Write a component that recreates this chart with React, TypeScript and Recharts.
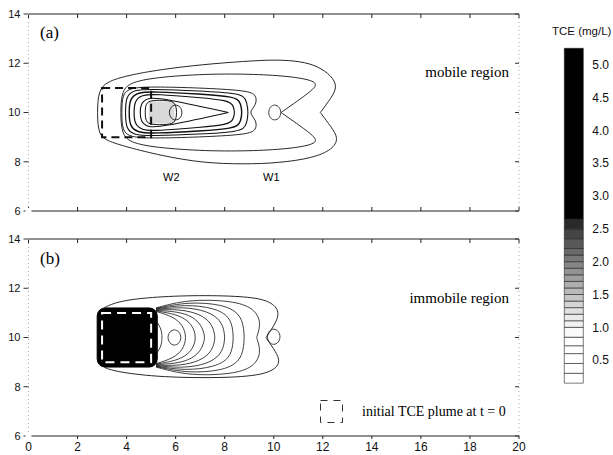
import { LineChart, Line, XAxis, YAxis, ReferenceArea, BarChart, Bar } from 'recharts'

type Pt = [number, number]

const xTicks = [0, 2, 4, 6, 8, 10, 12, 14, 16, 18, 20]
const yTicks = [6, 8, 10, 12, 14]
const cbTicks = [0.5, 1.0, 1.5, 2.0, 2.5, 3.0, 3.5, 4.0, 4.5, 5.0]

// colour bar bands (TCE mg/L) and their shades
const cbEdges = [0, 0.15, 0.3, 0.45, 0.6, 0.72, 0.85, 1.0, 1.1, 1.2, 1.3, 1.4, 1.5, 1.6, 1.7, 1.8, 1.9, 2.0, 2.1, 2.2, 2.35, 2.5, 2.65, 5.25]
const cbFills = ['none', '#fff', '#fff', '#fff', '#fff', '#fff', '#fafafa', '#f2f2f2', '#eaeaea', '#e0e0e0', '#d4d4d4', '#c6c6c6', '#bababa', '#aeaeae', '#a0a0a0', '#939393', '#868686', '#787878', '#6a6a6a', '#585858', '#444', '#2a2a2a', '#000']

// (a) mobile region contours
const mobOuter: Pt[] = [[2.8, 10.0], [2.85, 10.9], [3.2, 11.25], [4.0, 11.5], [5.4, 11.75], [7.1, 11.95], [8.8, 12.08], [10.1, 12.15], [11.1, 12.08], [11.8, 11.88], [12.35, 11.5], [12.6, 11.05], [12.35, 10.6], [11.9, 10.0], [11.9, 10.0], [11.9, 10.0], [12.35, 9.4], [12.65, 8.95], [12.4, 8.5], [11.6, 8.15], [10.2, 7.95], [8.8, 7.9], [7.1, 7.95], [5.4, 8.25], [4.0, 8.6], [3.2, 8.85], [2.85, 9.1]]
const mobSecond: Pt[] = [[3.75, 10.0], [3.8, 10.9], [4.2, 11.25], [5.4, 11.45], [7.5, 11.58], [9.5, 11.55], [10.8, 11.45], [11.6, 11.3], [11.8, 11.1], [11.3, 10.7], [10.3, 10.0], [10.3, 10.0], [10.3, 10.0], [11.3, 9.3], [11.8, 8.9], [11.6, 8.7], [10.8, 8.55], [9.5, 8.45], [7.5, 8.42], [5.4, 8.55], [4.2, 8.75], [3.8, 9.1]]
const mobN1: Pt[] = [[3.8, 10.0], [3.82, 10.75], [4.15, 11.0], [5.0, 11.05], [7.0, 11.0], [8.8, 10.9], [9.3, 10.75], [9.3, 10.3], [8.95, 10.0], [9.3, 9.7], [9.3, 9.25], [8.8, 9.1], [7.0, 9.0], [5.0, 8.95], [4.15, 9.0], [3.82, 9.25]]
const mobN2: Pt[] = [[3.95, 10.0], [3.97, 10.65], [4.3, 10.92], [5.0, 10.95], [7.0, 10.88], [8.6, 10.78], [8.95, 10.55], [8.95, 9.45], [8.6, 9.22], [7.0, 9.12], [5.0, 9.05], [4.3, 9.08], [3.97, 9.35]]
const mobN3: Pt[] = [[4.1, 10.0], [4.12, 10.55], [4.45, 10.82], [5.1, 10.85], [7.0, 10.75], [8.35, 10.65], [8.7, 10.45], [8.7, 9.55], [8.35, 9.35], [7.0, 9.25], [5.1, 9.15], [4.45, 9.18], [4.12, 9.45]]
const mobN4: Pt[] = [[4.3, 10.0], [4.32, 10.45], [4.6, 10.72], [5.2, 10.75], [7.0, 10.6], [8.1, 10.5], [8.4, 10.3], [8.4, 9.7], [8.1, 9.5], [7.0, 9.4], [5.2, 9.25], [4.6, 9.28], [4.32, 9.55]]
const mobTri: Pt[] = [[4.55, 10.0], [4.57, 10.35], [4.85, 10.6], [5.4, 10.6], [8.15, 10.0], [8.15, 10.0], [8.15, 10.0], [5.4, 9.4], [4.85, 9.4], [4.57, 9.65]]
const mobCore: Pt[] = [[4.75, 10.0], [4.78, 10.38], [5.0, 10.5], [5.7, 10.5], [6.0, 10.4], [6.05, 10.0], [6.0, 9.6], [5.7, 9.5], [5.0, 9.5], [4.78, 9.62]]
const mobW2: Pt[] = [[5.72, 10.0], [5.8, 10.24], [6.0, 10.33], [6.2, 10.24], [6.28, 10.0], [6.2, 9.76], [6.0, 9.67], [5.8, 9.76]]
const mobW1: Pt[] = [[9.77, 10.0], [9.85, 10.24], [10.04, 10.33], [10.23, 10.24], [10.31, 10.0], [10.23, 9.76], [10.04, 9.67], [9.85, 9.76]]

// (b) immobile region contours
const immOuter: Pt[] = [[3.1, 11.22], [3.6, 11.45], [4.7, 11.62], [6.7, 11.72], [8.75, 11.68], [9.8, 11.52], [10.25, 11.1], [10.1, 10.6], [9.68, 10.0], [9.68, 10.0], [9.68, 10.0], [10.1, 9.4], [10.3, 8.95], [9.8, 8.5], [8.1, 8.35], [5.4, 8.38], [3.6, 8.6], [3.1, 8.78]]
const immC1: Pt[] = [[5.2, 11.2], [6.5, 11.55], [8.3, 11.5], [9.2, 11.2], [9.5, 10.6], [9.3, 10.0], [9.3, 10.0], [9.5, 9.4], [9.2, 8.8], [8.3, 8.5], [6.5, 8.45], [5.2, 8.8]]
const immC2: Pt[] = [[5.2, 11.18], [6.5, 11.45], [7.9, 11.35], [8.6, 11.0], [8.8, 10.4], [8.8, 9.6], [8.6, 9.0], [7.9, 8.65], [6.5, 8.55], [5.2, 8.82]]
const immC3: Pt[] = [[5.2, 11.16], [6.4, 11.35], [7.6, 11.2], [8.2, 10.85], [8.35, 10.3], [8.35, 9.7], [8.2, 9.15], [7.6, 8.8], [6.4, 8.65], [5.2, 8.84]]
const immC4: Pt[] = [[5.2, 11.14], [6.3, 11.25], [7.3, 11.08], [7.85, 10.7], [8.0, 10.2], [8.0, 9.8], [7.85, 9.3], [7.3, 8.92], [6.3, 8.75], [5.2, 8.86]]
const immC5: Pt[] = [[5.2, 11.12], [6.2, 11.15], [7.0, 10.95], [7.45, 10.6], [7.6, 10.15], [7.6, 9.85], [7.45, 9.4], [7.0, 9.05], [6.2, 8.85], [5.2, 8.88]]
const immC6: Pt[] = [[5.2, 11.1], [6.1, 11.05], [6.7, 10.85], [7.05, 10.5], [7.18, 10.1], [7.18, 9.9], [7.05, 9.5], [6.7, 9.15], [6.1, 8.95], [5.2, 8.9]]
const immC7: Pt[] = [[5.2, 11.08], [6.0, 10.95], [6.5, 10.7], [6.75, 10.35], [6.82, 10.0], [6.75, 9.65], [6.5, 9.3], [6.0, 9.05], [5.2, 8.92]]
const immC8: Pt[] = [[5.2, 11.06], [5.9, 10.85], [6.3, 10.5], [6.45, 10.0], [6.3, 9.5], [5.9, 9.15], [5.2, 8.94]]
const immBracket: Pt[] = [[5.22, 10.65], [5.42, 10.35], [5.45, 10.0], [5.42, 9.65], [5.22, 9.35]]
const immW2: Pt[] = [[5.66, 10.0], [5.75, 10.24], [5.95, 10.34], [6.15, 10.24], [6.24, 10.0], [6.15, 9.76], [5.95, 9.66], [5.75, 9.76]]
const immW1: Pt[] = [[9.72, 10.03], [9.8, 10.27], [10.0, 10.37], [10.2, 10.27], [10.28, 10.03], [10.2, 9.79], [10.0, 9.69], [9.8, 9.79]]

const rows = (pts: Pt[]) => pts.map(([x, y]) => ({ x, y }))

const sans = "'Liberation Sans', Arial, sans-serif"
const serif = "'Liberation Serif', 'Times New Roman', serif"

interface Curve {
  pts: Pt[]
  closed: boolean
  w: number
}

const mobileCurves: Curve[] = [
  { pts: mobOuter, closed: true, w: 0.9 },
  { pts: mobSecond, closed: true, w: 0.9 },
  { pts: mobN1, closed: true, w: 0.9 },
  { pts: mobN2, closed: true, w: 1.1 },
  { pts: mobN3, closed: true, w: 1.4 },
  { pts: mobN4, closed: true, w: 1.2 },
  { pts: mobTri, closed: true, w: 1.1 },
  { pts: mobCore, closed: true, w: 1 },
  { pts: mobW2, closed: true, w: 0.9 },
  { pts: mobW1, closed: true, w: 0.8 },
]

const immobileCurves: Curve[] = [
  { pts: immOuter, closed: false, w: 0.9 },
  { pts: immC1, closed: false, w: 0.8 },
  { pts: immC2, closed: false, w: 0.8 },
  { pts: immC3, closed: false, w: 0.8 },
  { pts: immC4, closed: false, w: 0.8 },
  { pts: immC5, closed: false, w: 0.8 },
  { pts: immC6, closed: false, w: 0.8 },
  { pts: immC7, closed: false, w: 0.8 },
  { pts: immC8, closed: false, w: 0.8 },
  { pts: immBracket, closed: false, w: 0.8 },
  { pts: immW2, closed: true, w: 0.8 },
  { pts: immW1, closed: true, w: 0.8 },
]

const blank = () => ''
const axisStroke = { stroke: '#222' }
const sideStroke = { stroke: '#aaa', strokeDasharray: '1 3' }

function Panel({ top, height, curves, labels, children }: { top: number; height: number; curves: Curve[]; labels: boolean; children?: React.ReactNode }) {
  return (
    <div style={{ position: 'absolute', left: 0, top }}>
      <LineChart width={613} height={height} margin={{ top: 14, right: 94, bottom: labels ? 0 : 14, left: 0 }}>
        {labels ? (
          <XAxis xAxisId={0} type="number" dataKey="x" domain={[0, 20]} ticks={xTicks} orientation="bottom" height={19}
            axisLine={axisStroke} tickLine={axisStroke} tickSize={3} tickMargin={3} allowDataOverflow
            tick={{ fontSize: 12, fill: '#111', fontFamily: sans }} />
        ) : (
          <XAxis xAxisId={0} type="number" dataKey="x" domain={[0, 20]} ticks={xTicks} orientation="bottom" mirror height={1}
            tickSize={4} tickFormatter={blank} axisLine={axisStroke} tickLine={axisStroke} allowDataOverflow />
        )}
        <XAxis xAxisId="top" type="number" dataKey="x" domain={[0, 20]} ticks={xTicks} orientation="top" mirror height={1}
          tickSize={4} tickFormatter={blank} axisLine={axisStroke} tickLine={axisStroke} />
        <YAxis yAxisId={0} type="number" domain={[6, 14]} ticks={yTicks} width={28.5} tickSize={5} tickMargin={3}
          axisLine={sideStroke} tickLine={{ stroke: '#333' }}
          tick={{ fontSize: 11, fill: '#111', fontFamily: sans }} allowDataOverflow />
        <YAxis yAxisId="right" type="number" orientation="right" mirror width={1} domain={[6, 14]} ticks={yTicks}
          tickSize={4} tickFormatter={blank} axisLine={sideStroke} tickLine={{ stroke: '#333' }} />
        {/* invisible series so the frame axes are bound to something */}
        <Line xAxisId="top" yAxisId="right" data={[{ x: 0, y: 6 }]} dataKey="y" stroke="none" dot={false} activeDot={false} isAnimationActive={false} />
        {curves.map((c, i) => (
          <Line key={i} data={rows(c.pts)} dataKey="y" type={c.closed ? 'basisClosed' : 'basis'}
            stroke="#111" strokeWidth={c.w} dot={false} activeDot={false} isAnimationActive={false} />
        ))}
        {children}
      </LineChart>
    </div>
  )
}

const cbRow = cbEdges.slice(1).reduce<Record<string, number | string>>((row, e, i) => {
  row[`b${i}`] = +(e - cbEdges[i]).toFixed(3)
  return row
}, { name: 'TCE' })

export default function App() {
  return (
    <div style={{ position: 'absolute', left: 0, top: 0, width: 613, height: 455, background: '#fff' }}>
      <Panel top={0} height={225} curves={mobileCurves} labels={false}>
        <ReferenceArea x1={4.9} x2={5.95} y1={9.55} y2={10.45} fill="#cfcfcf" fillOpacity={0.8} stroke="none" />
        <ReferenceArea x1={3} x2={5} y1={9} y2={11} fill="none" stroke="#111" strokeWidth={2} strokeDasharray="8 5" />
      </Panel>
      <Panel top={225} height={230} curves={immobileCurves} labels>
        <ReferenceArea x1={2.8} x2={5.25} y1={8.8} y2={11.2} fill="#000" fillOpacity={1} stroke="#000" radius={8} />
        <ReferenceArea x1={3} x2={5} y1={9} y2={11} fill="none" stroke="#fff" strokeWidth={2} strokeDasharray="9 6" />
      </Panel>

      <div style={{ position: 'absolute', left: 555, top: 40 }}>
        <BarChart width={58} height={353} data={[cbRow]} margin={{ top: 8.3, right: 0, bottom: 0, left: 9.3 }} barCategoryGap={0}>
          <XAxis dataKey="name" hide />
          <YAxis orientation="right" type="number" domain={[0, 5.25]} ticks={cbTicks} width={29.7}
            axisLine={false} tickLine={false} tickMargin={3} tickFormatter={(v: number) => v.toFixed(1)}
            tick={{ fontSize: 12, fill: '#111', fontFamily: sans }} />
          {cbFills.map((f, i) => (
            <Bar key={i} dataKey={`b${i}`} stackId="cb" fill={f} stroke={i === 0 ? 'none' : '#222'} strokeWidth={0.6}
              isAnimationActive={false} />
          ))}
        </BarChart>
      </div>

      <div style={{ position: 'absolute', left: 552, top: 25, fontFamily: sans, fontSize: 11.5, lineHeight: '13px', color: '#111', whiteSpace: 'nowrap' }}>TCE (mg/L)</div>

      <div style={{ position: 'absolute', left: 40, top: 24, fontFamily: serif, fontSize: 17, lineHeight: '17px' }}>(a)</div>
      <div style={{ position: 'absolute', right: 104, top: 64, fontFamily: serif, fontSize: 15, lineHeight: '16px', whiteSpace: 'nowrap' }}>mobile region</div>
      <div style={{ position: 'absolute', left: 163, top: 171, fontFamily: sans, fontSize: 11, lineHeight: '12px' }}>W2</div>
      <div style={{ position: 'absolute', left: 263, top: 171, fontFamily: sans, fontSize: 11, lineHeight: '12px' }}>W1</div>

      <div style={{ position: 'absolute', left: 40, top: 250, fontFamily: serif, fontSize: 17, lineHeight: '17px' }}>(b)</div>
      <div style={{ position: 'absolute', right: 104, top: 290, fontFamily: serif, fontSize: 15, lineHeight: '16px', whiteSpace: 'nowrap' }}>immobile region</div>

      <svg style={{ position: 'absolute', left: 320, top: 400 }} width={24} height={24}>
        <rect x={0.5} y={0.5} width={22} height={22} fill="none" stroke="#333" strokeWidth={1} strokeDasharray="7 6" />
      </svg>
      <div style={{ position: 'absolute', left: 362, top: 404, fontFamily: serif, fontSize: 14, lineHeight: '15px', whiteSpace: 'nowrap' }}>initial TCE plume at t = 0</div>
    </div>
  )
}
